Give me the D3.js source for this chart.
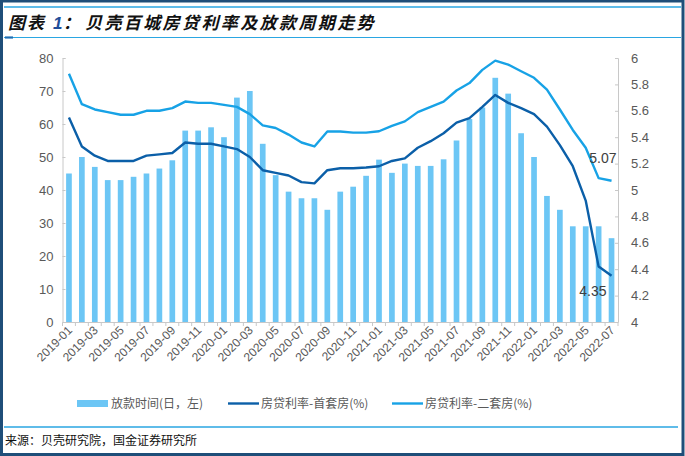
<!DOCTYPE html>
<html><head><meta charset="utf-8">
<script src="https://cdn.jsdelivr.net/npm/d3@7"></script>
<style>
html,body{margin:0;padding:0;background:#fff;}
svg{display:block;}
</style></head>
<body>
<svg id="c" width="685" height="456"></svg>
<script>
const months = ["2019-01","2019-02","2019-03","2019-04","2019-05","2019-06","2019-07","2019-08","2019-09","2019-10","2019-11","2019-12",
"2020-01","2020-02","2020-03","2020-04","2020-05","2020-06","2020-07","2020-08","2020-09","2020-10","2020-11","2020-12",
"2021-01","2021-02","2021-03","2021-04","2021-05","2021-06","2021-07","2021-08","2021-09","2021-10","2021-11","2021-12",
"2022-01","2022-02","2022-03","2022-04","2022-05","2022-06","2022-07"];
const loanDays = [45,50,47,43,43,44,45,46.5,49,58,58,59,56,68,70,54,44.5,39.5,37.5,37.5,34,39.5,41,44.3,49.2,45.2,48,47.3,47.3,49.3,55,61.5,65,74,69.2,57.2,50,38.2,34,29,29,29,25.4];
const firstRate = [5.55,5.33,5.26,5.22,5.22,5.22,5.26,5.27,5.28,5.36,5.35,5.35,5.33,5.31,5.25,5.15,5.13,5.11,5.06,5.05,5.15,5.165,5.165,5.17,5.18,5.22,5.24,5.32,5.37,5.43,5.51,5.545,5.63,5.72,5.66,5.62,5.575,5.48,5.34,5.18,4.92,4.42,4.35];
const secondRate = [5.88,5.65,5.61,5.59,5.57,5.57,5.60,5.60,5.62,5.67,5.66,5.66,5.645,5.63,5.575,5.49,5.47,5.42,5.36,5.33,5.443,5.443,5.435,5.435,5.445,5.486,5.52,5.59,5.63,5.67,5.754,5.81,5.91,5.98,5.95,5.90,5.85,5.76,5.61,5.455,5.32,5.09,5.07];
const leftTicks = [0,10,20,30,40,50,60,70,80];
const rightTicks = [4,4.2,4.4,4.6,4.8,5,5.2,5.4,5.6,5.8,6];
const xLabels = months.filter((m,i)=>i%2===0);
const seriesNames = ["放款时间(日，左)","房贷利率-首套房(%)","房贷利率-二套房(%)"];
const title = "贝壳百城房贷利率及放款周期走势";
const source = "来源：贝壳研究院，国金证券研究所";

const C_BAR = "#6cc6f5", C_DARK = "#0b5fa8", C_LIGHT = "#17a2e6", C_AXIS = "#c8c8c8", C_TXT = "#595959";
const NUM = "'Liberation Sans', Arial, sans-serif";
const CJK = "'Noto Sans CJK SC', sans-serif";

const svg = d3.select("#c");

// frame
svg.append("rect").attr("x",1.5).attr("y",1).attr("width",681.5).attr("height",453.5)
  .attr("fill","none").attr("stroke","#1f4e79").attr("stroke-width",3);
svg.append("line").attr("x1",4).attr("x2",681).attr("y1",7).attr("y2",7).attr("stroke","#2aa6e2").attr("stroke-width",1.5);
svg.append("line").attr("x1",4).attr("x2",681).attr("y1",37.5).attr("y2",37.5).attr("stroke","#2aa6e2").attr("stroke-width",1.2);
svg.append("line").attr("x1",5).attr("x2",13).attr("y1",37.5).attr("y2",37.5).attr("stroke","#1f6fb5").attr("stroke-width",2.2);
svg.append("line").attr("x1",4).attr("x2",678).attr("y1",427).attr("y2",427).attr("stroke","#2aa6e2").attr("stroke-width",1.5);

// title
const t = svg.append("text").attr("y",29).attr("font-family",CJK).attr("font-size",17)
  .attr("font-weight","bold").attr("font-style","italic").attr("fill","#111");
t.append("tspan").attr("x",8).attr("letter-spacing",2).text("图表");
t.append("tspan").attr("x",53).attr("fill","#1f4e9a").attr("font-family",NUM).text("1");
t.append("tspan").attr("x",63).text("：");
t.append("tspan").attr("x",85).attr("letter-spacing",2.4).text(title);

// source
svg.append("text").attr("x",5).attr("y",445).attr("font-family",CJK).attr("font-size",12).attr("fill","#111").text(source);

// scales
const x = d3.scaleBand().domain(months).range([62.5,618]).paddingInner(0.56).paddingOuter(0.28);
const yL = d3.scaleLinear().domain([0,80]).range([322,58]);
const yR = d3.scaleLinear().domain([4,6]).range([322,58]);

// bars
svg.append("g").selectAll("rect").data(months).join("rect")
  .attr("x",d=>x(d)).attr("width",x.bandwidth())
  .attr("y",(d,i)=>yL(loanDays[i])).attr("height",(d,i)=>yL(0)-yL(loanDays[i]))
  .attr("fill",C_BAR);

// axes
const gL = svg.append("g").attr("transform","translate(62.5,0)")
  .call(d3.axisLeft(yL).tickValues(leftTicks).tickSize(-3).tickPadding(9).tickFormat(d3.format("d")));
const gR = svg.append("g").attr("transform","translate(618,0)")
  .call(d3.axisRight(yR).tickValues(rightTicks).tickSize(-3).tickPadding(13).tickFormat(d=>d3.format("")(+d.toFixed(1))));
[gL,gR].forEach(g=>{
  g.select(".domain").attr("stroke",C_AXIS);
  g.selectAll(".tick line").attr("stroke",C_AXIS);
  g.selectAll(".tick text").attr("fill",C_TXT).attr("font-family",NUM).attr("font-size",13);
});

// x axis
const gx = svg.append("g");
gx.append("line").attr("x1",62.5).attr("x2",618).attr("y1",322.5).attr("y2",322.5).attr("stroke",C_AXIS);
const step = x.step();
const bounds = d3.range(months.length+1).map(i=> x(months[0]) - (step - x.bandwidth())/2 + i*step);
gx.selectAll("line.tk").data(bounds).join("line").attr("class","tk")
  .attr("x1",d=>d).attr("x2",d=>d).attr("y1",322.5).attr("y2",326).attr("stroke",C_AXIS);
gx.selectAll("text").data(xLabels).join("text")
  .attr("transform",d=>`translate(${x(d)+x.bandwidth()/2+4},${331}) rotate(-45)`)
  .attr("text-anchor","end").attr("font-family",NUM).attr("font-size",12).attr("fill",C_TXT).text(d=>d);

// lines
const line = d3.line().x((d,i)=>x(months[i])+x.bandwidth()/2).y(d=>yR(d));
svg.append("path").datum(secondRate).attr("d",line).attr("fill","none").attr("stroke",C_LIGHT).attr("stroke-width",2.4).attr("stroke-linejoin","round");
svg.append("path").datum(firstRate).attr("d",line).attr("fill","none").attr("stroke",C_DARK).attr("stroke-width",2.4).attr("stroke-linejoin","round");

// annotations
const last = months.length-1;
svg.append("text").attr("x",x(months[last])+x.bandwidth()/2+5).attr("y",yR(secondRate[last])-18)
  .attr("text-anchor","end").attr("font-family",NUM).attr("font-size",14).attr("fill","#404040").text(secondRate[last].toFixed(2));
svg.append("text").attr("x",x(months[last])+x.bandwidth()/2-5).attr("y",yR(firstRate[last])+20)
  .attr("text-anchor","end").attr("font-family",NUM).attr("font-size",14).attr("fill","#404040").text(firstRate[last].toFixed(2));

// legend
const lg = svg.append("g").attr("font-family",CJK).attr("font-size",12).attr("fill",C_TXT);
lg.append("rect").attr("x",77).attr("y",400).attr("width",31).attr("height",7).attr("fill",C_BAR);
lg.append("text").attr("x",111).attr("y",408).text(seriesNames[0]);
lg.append("line").attr("x1",228).attr("x2",259).attr("y1",403.5).attr("y2",403.5).attr("stroke",C_DARK).attr("stroke-width",2.4);
lg.append("text").attr("x",261).attr("y",408).text(seriesNames[1]);
lg.append("line").attr("x1",392).attr("x2",423).attr("y1",403.5).attr("y2",403.5).attr("stroke",C_LIGHT).attr("stroke-width",2.4);
lg.append("text").attr("x",425).attr("y",408).text(seriesNames[2]);
</script>
</body></html>
